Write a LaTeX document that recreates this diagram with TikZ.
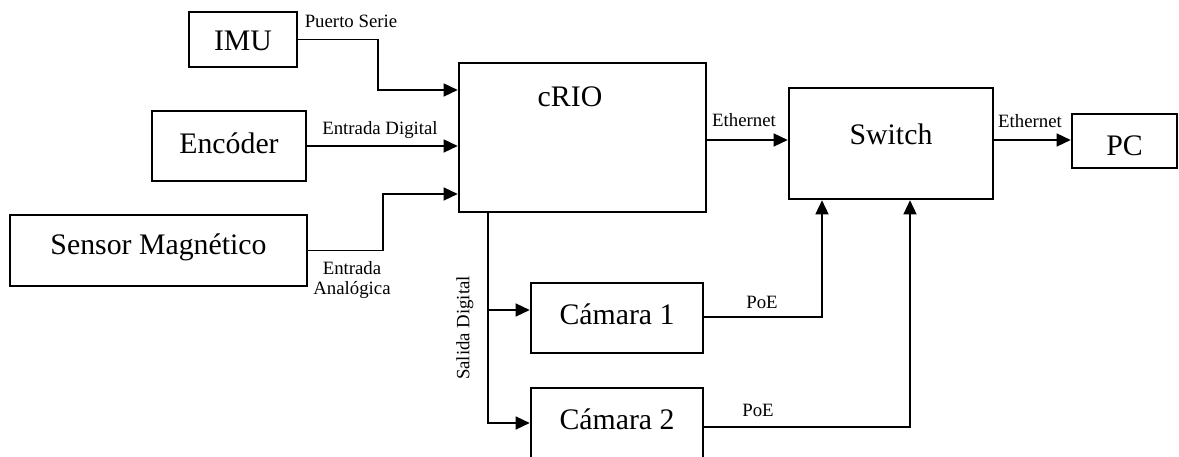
\documentclass[tikz,border=0pt]{standalone}
\usepackage{fontspec}
\setmainfont{Liberation Serif}
\usetikzlibrary{arrows.meta}
\begin{document}
\begin{tikzpicture}[x=1pt,y=-1pt,
  blk/.style={draw,line width=2.6pt,inner sep=0pt},
  btxt/.style={font=\fontsize{29.8}{34}\selectfont,inner sep=0pt},
  ltxt/.style={font=\fontsize{18.8}{21}\selectfont,inner sep=0pt,align=center},
  arr/.style={line width=1.4pt,-{Triangle[length=14pt,width=13pt]}},
  ln/.style={line width=1.4pt}]
\useasboundingbox (0,0) rectangle (1179,457);
\clip (0,0) rectangle (1179,457);
% boxes
\node[blk,minimum width=108pt,minimum height=55pt] (imu) at (243,39.5) {};
\node[blk,minimum width=154pt,minimum height=70pt] (enc) at (229,146) {};
\node[blk,minimum width=297pt,minimum height=71pt] (sen) at (158.5,250.5) {};
\node[blk,minimum width=247pt,minimum height=149pt] (crio) at (582.5,137.5) {};
\node[blk,minimum width=204pt,minimum height=111pt] (sw) at (891,143.5) {};
\node[blk,minimum width=105pt,minimum height=54pt] (pc) at (1124.5,141) {};
\node[blk,minimum width=172pt,minimum height=70pt] (cam1) at (617,318) {};
\node[blk,minimum width=172pt,minimum height=90pt] (cam2) at (617,433) {};
% box texts
\node[btxt] (timu) at (243,41) {IMU};
\node[btxt] (tenc) at (229,143) {Encóder};
\node[btxt] (tsen) at (158.5,247) {Sensor Magnético};
\node[btxt] (tcrio) at (570,97) {cRIO};
\node[btxt] (tsw) at (891,134) {Switch};
\node[btxt] (tpc) at (1124.5,146) {PC};
\node[btxt] (tcam1) at (617,314) {Cámara 1};
\node[btxt] (tcam2) at (617,419) {Cámara 2};
% connectors
\draw[arr] (imu.east) -| (378,90) -- (crio.west |- 0,90);
\draw[arr] (enc.east) -- (crio.west |- enc.east);
\draw[arr] (sen.east) -| (383,194) -- (crio.west |- 0,194);
\draw[arr] (crio.south -| 488,0) |- (cam1.west |- 0,310);
\draw[arr] (crio.south -| 488,0) |- (cam2.west |- 0,423);
\draw[arr] (cam1.east |- 0,317) -| (sw.south -| 822,0);
\draw[arr] (cam2.east |- 0,427) -| (sw.south -| 910,0);
\draw[arr] (crio.east |- 0,140) -- (sw.west |- 0,140);
\draw[arr] (sw.east |- 0,140) -- (pc.west |- 0,140);
% labels
\node[ltxt] (lps) at (351,21) {Puerto Serie};
\node[ltxt] (led) at (380,130) {Entrada Digital};
\node[ltxt] (lea) at (352,280) {Entrada\\[-1pt]Analógica};
\node[ltxt,rotate=90] (lsd) at (465,328) {Salida Digital};
\node[ltxt] (leth1) at (744,120) {Ethernet};
\node[ltxt] (leth2) at (1030,121) {Ethernet};
\node[ltxt] (lpoe1) at (762,302) {PoE};
\node[ltxt] (lpoe2) at (758,410) {PoE};
\end{tikzpicture}
\end{document}
